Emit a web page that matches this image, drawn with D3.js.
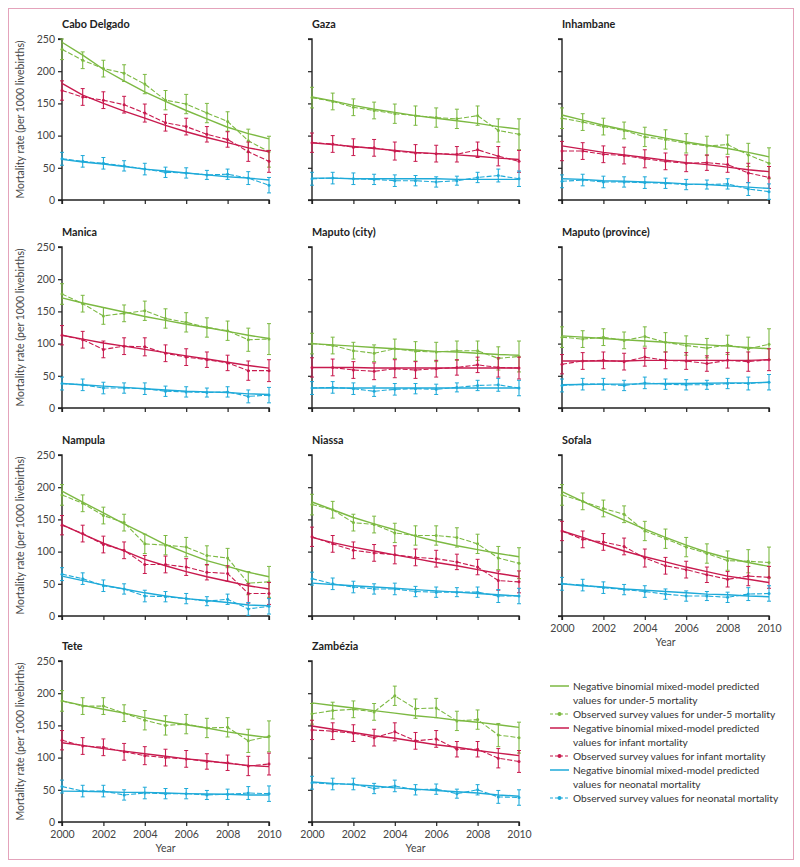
<!DOCTYPE html>
<html><head><meta charset="utf-8">
<script src="https://cdn.jsdelivr.net/npm/d3@7"></script>
<style>body{margin:0;background:#fff}svg{display:block}</style>
</head><body>
<script>
const years = [2000,2001,2002,2003,2004,2005,2006,2007,2008,2009,2010];
const xTicks = [2000,2002,2004,2006,2008,2010];
const yTicks = [0,50,100,150,200,250];
const provinces = ["Cabo Delgado","Gaza","Inhambane","Manica","Maputo (city)","Maputo (province)","Nampula","Niassa","Sofala","Tete","Zambézia"];

const u5Pred = [
 [245,225,203,185,168,153,139,126,113,103,95],
 [160,154,147,141,136,131,127,123,119,114,110],
 [132,124,116,109,102,96,90,85,80,74,67],
 [171,163,156,149,142,136,130,125,119,113,108],
 [100,98,96,94,92,90,88,87,85,83,82],
 [112,110,108,106,104,102,100,98,96,94,92],
 [194,177,160,143,127,111,98,86,77,68,61],
 [177,165,153,143,134,124,116,109,103,97,92],
 [193,178,163,149,135,122,110,99,90,83,77],
 [188,181,175,169,162,156,151,146,140,135,131],
 [185,181,177,173,169,165,162,158,155,151,147]
];
const u5Obs = [
 [234,217,204,197,180,155,149,135,122,92,75],
 [159,153,144,139,134,131,128,126,131,108,102],
 [127,121,114,108,98,94,88,84,86,70,57],
 [177,162,143,147,151,139,133,125,120,106,107],
 [100,97,89,85,92,88,87,89,89,77,80],
 [110,107,110,105,111,102,97,93,98,92,99],
 [188,175,156,145,112,110,107,94,90,51,53],
 [173,165,145,142,129,125,125,122,112,90,82],
 [188,178,167,158,132,120,107,97,86,85,83],
 [188,180,180,169,158,150,152,146,147,126,133],
 [168,173,175,171,196,176,177,157,159,135,131]
];
const infPred = [
 [181,163,150,138,127,116,106,97,89,81,75],
 [89,86,83,80,77,74,72,70,68,65,63],
 [84,79,74,70,66,62,58,55,51,47,44],
 [113,107,101,96,91,86,81,76,71,66,62],
 [63,63,63,62,62,62,62,62,62,62,62],
 [73,73,73,73,74,74,74,74,74,74,75],
 [142,127,113,101,88,78,69,61,54,47,42],
 [122,114,107,101,95,89,83,78,72,66,61],
 [132,122,111,101,92,84,76,69,62,57,52],
 [123,119,114,110,106,102,98,95,91,88,86],
 [149,144,139,134,130,125,120,116,111,107,103]
];
const infObs = [
 [170,160,155,148,135,120,114,102,94,75,60],
 [89,87,82,81,76,73,72,71,78,68,60],
 [76,76,71,69,64,60,57,58,55,42,35],
 [113,106,91,96,95,85,79,75,70,58,58],
 [63,63,59,57,61,59,61,63,67,63,62],
 [68,73,74,72,79,74,73,69,74,72,75],
 [141,128,111,102,80,80,76,68,66,35,35],
 [123,112,102,98,95,91,89,84,76,55,53],
 [132,119,115,108,90,78,72,64,57,62,60],
 [127,118,116,109,103,100,98,94,92,87,90],
 [143,141,138,131,140,126,129,113,113,99,94]
];
const neoPred = [
 [63,59,56,52,48,45,42,39,36,34,31],
 [34,34,33,33,33,33,33,32,32,32,32],
 [33,32,30,29,28,27,25,24,22,20,18],
 [38,36,34,32,30,28,26,25,24,22,21],
 [31,31,31,31,31,31,31,31,31,31,31],
 [36,36.5,37,37,37.5,38,38,38.5,39,39,40],
 [62,55,48,42,36,31,27,24,21,17,16],
 [51,49,47,45,43,41,39,37,35,33,31],
 [50,47,45,42,40,38,36,34,33,31,30],
 [48,47.5,47,46,46,45,44,43.5,43,42,42],
 [62,60,58,56,53,51,49,47,45,42,40]
];
const neoObs = [
 [64,60,57,53,48,43,42,39,40,34,23],
 [33,34,33,32,30,30,28,30,35,38,33],
 [29,31,28,28,27,26,24,24,25,17,13],
 [38,36,31,31,30,26,25,24,25,18,20],
 [31,32,30,26,29,30,29,32,35,36,31],
 [35,37,37,35,39,37,36,36,38,38,40],
 [65,58,47,42,31,30,27,23,26,11,15],
 [58,50,45,42,42,38,37,37,37,31,31],
 [50,48,44,41,38,34,31,31,29,34,35],
 [55,48,48,42,45,44,44,42,43,45,44],
 [61,59,59,52,56,50,51,44,50,39,38]
];
// half-widths of the 95% uncertainty bars of observed values, by year
const u5Err = [16,13,13,13,15,15,15,15,15,18,24];
const infErr = [15,13,13,13,14,13,13,12,12,15,17];
const neoErr = [10,9,9,8,9,8,8,7,8,10,12];

const legendLabels = [
 ["Negative binomial mixed-model predicted","values for under-5 mortality"],
 ["Observed survey values for under-5 mortality"],
 ["Negative binomial mixed-model predicted","values for infant mortality"],
 ["Observed survey values for infant mortality"],
 ["Negative binomial mixed-model predicted","values for neonatal mortality"],
 ["Observed survey values for neonatal mortality"]
];

const GREEN="#7cb942", RED="#c81a4e", BLUE="#1eaad9";
const FONT="Lato, 'Open Sans', sans-serif";
const W=800,H=867;
const svg=d3.select("body").append("svg").attr("width",W).attr("height",H);
svg.append("rect").attr("x",8.5).attr("y",8.5).attr("width",785).attr("height",851)
  .attr("fill","none").attr("stroke","#e4a3bb").attr("stroke-width",1);

const colX=[62,312,562], rowY=[39,247,455,661], pw=207, ph=161;
const x=d3.scaleLinear().domain([2000,2010]).range([0,pw]);
const y=d3.scaleLinear().domain([0,250]).range([ph,0]);

const series=[
 {pred:u5Pred,obs:u5Obs,err:u5Err,color:GREEN},
 {pred:infPred,obs:infObs,err:infErr,color:RED},
 {pred:neoPred,obs:neoObs,err:neoErr,color:BLUE}
];
const line=d3.line().x((d,i)=>x(years[i])).y(d=>y(d));

provinces.forEach((name,p)=>{
  const col=p%3,row=Math.floor(p/3);
  const g=svg.append("g").attr("transform",`translate(${colX[col]},${rowY[row]})`);
  g.append("text").attr("x",0).attr("y",-11).text(name)
   .attr("font-family",FONT).attr("font-weight","bold").attr("font-size",10.8).attr("fill","#222");
  const showX = row===3 || p===8;
  const ya=g.append("g").call(d3.axisLeft(y).tickValues(yTicks).tickSize(4).tickFormat(col===0?d3.format("d"):""));
  const xa=g.append("g").attr("transform",`translate(0,${ph})`)
    .call(d3.axisBottom(x).tickValues(xTicks).tickSize(4).tickFormat(showX?d3.format("d"):""));
  [ya,xa].forEach(a=>{
    a.select(".domain").attr("stroke","#222").attr("stroke-width",1.4);
    a.selectAll(".tick line").attr("stroke","#222").attr("stroke-width",1.2);
    a.selectAll(".tick text").attr("font-family",FONT).attr("font-size",10.5).attr("fill","#444");
  });
  ya.select(".domain").attr("d",`M-4,0H0V${ph}H-4`);
  xa.select(".domain").attr("d",`M0,4V0H${pw}V4`);
  xa.selectAll(".tick text").attr("dy","0.85em");
  if(showX){
    g.append("text").attr("x",pw/2).attr("y",ph+30).attr("text-anchor","middle").text("Year")
     .attr("font-family",FONT).attr("font-size",10.5).attr("fill","#444");
  }
  if(col===0){
    g.append("text").attr("transform",`translate(-38,${ph/2}) rotate(-90)`).attr("text-anchor","middle")
     .text("Mortality rate (per 1000 livebirths)").attr("font-family",FONT).attr("font-size",10.5).attr("fill","#444");
  }
  series.forEach(s=>{
    const obs=s.obs[p];
    const eb=g.append("g");
    obs.forEach((v,i)=>{
      const cx=x(years[i]), e=s.err[i];
      eb.append("line").attr("x1",cx).attr("x2",cx).attr("y1",y(v-e)).attr("y2",y(v+e)).attr("stroke",s.color).attr("stroke-width",1.1);
      [v-e,v+e].forEach(t=>eb.append("line").attr("x1",cx-2).attr("x2",cx+2).attr("y1",y(t)).attr("y2",y(t)).attr("stroke",s.color).attr("stroke-width",1));
      eb.append("circle").attr("cx",cx).attr("cy",y(v)).attr("r",1.5).attr("fill",s.color);
    });
    g.append("path").datum(obs).attr("d",line).attr("fill","none").attr("stroke",s.color)
     .attr("stroke-width",1.1).attr("stroke-dasharray","5,2");
    g.append("path").datum(s.pred[p]).attr("d",line).attr("fill","none").attr("stroke",s.color).attr("stroke-width",1.4);
  });
});

// legend
const lg=svg.append("g");
let ly=686;
legendLabels.forEach((lab,i)=>{
  const c=[GREEN,GREEN,RED,RED,BLUE,BLUE][i], dashed=i%2===1;
  lg.append("line").attr("x1",550).attr("x2",569).attr("y1",ly).attr("y2",ly).attr("stroke",c)
    .attr("stroke-width",dashed?1.2:1.5).attr("stroke-dasharray",dashed?"3,2":null);
  if(dashed) lg.append("circle").attr("cx",559.5).attr("cy",ly).attr("r",2).attr("fill",c);
  lab.forEach((t,j)=>{
    lg.append("text").attr("x",573).attr("y",ly+4+j*14).text(t)
      .attr("font-family",FONT).attr("font-size",10.2).attr("fill","#333");
  });
  ly+=14*lab.length;
});
</script>
</body></html>
